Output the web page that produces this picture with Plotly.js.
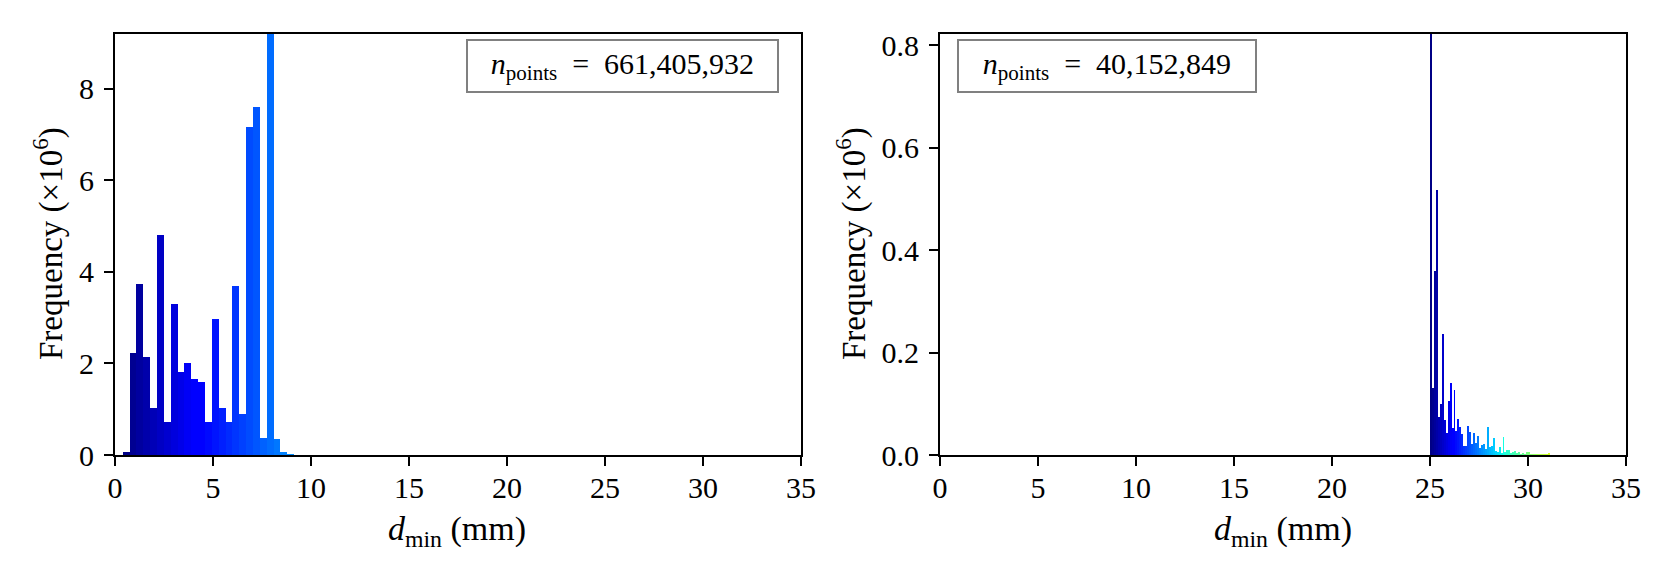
<!DOCTYPE html>
<html>
<head>
<meta charset="utf-8">
<script src="https://cdn.plot.ly/plotly-3.0.1.min.js"></script>
<style>
  html, body { margin: 0; padding: 0; background: #ffffff; }
  #chart { width: 1661px; height: 581px; }
</style>
</head>
<body>
<div id="chart"></div>
<script>
// ---------------- data ----------------
// Left panel: bin centres (mm) and frequencies (x10^6)
const leftBinCenters = [0.565, 0.915, 1.265, 1.615, 1.965, 2.315, 2.665, 3.015, 3.365, 3.715,
  4.065, 4.415, 4.765, 5.115, 5.465, 5.815, 6.165, 6.515, 6.865, 7.215,
  7.565, 7.915, 8.265, 8.615, 8.965];
const leftCounts = [0.07, 2.23, 3.73, 2.14, 1.03, 4.81, 0.72, 3.29, 1.81, 2.00,
  1.66, 1.60, 0.73, 2.97, 1.03, 0.71, 3.70, 0.89, 7.17, 7.60,
  0.38, 9.80, 0.35, 0.06, 0.03];
const leftBinWidth = 0.35;
const leftTotal = "661,405,932";

// Right panel: bin centres (mm) and frequencies (x10^6)
const rightBinCenters = [25.05, 25.15, 25.25, 25.35, 25.45, 25.55, 25.65, 25.75, 25.85, 25.95,
  26.05, 26.15, 26.25, 26.35, 26.45, 26.55, 26.65, 26.75, 26.85, 26.95,
  27.05, 27.15, 27.25, 27.35, 27.45, 27.55, 27.65, 27.75, 27.85, 27.95,
  28.05, 28.15, 28.25, 28.35, 28.45, 28.55, 28.65, 28.75, 28.85, 28.95,
  29.05, 29.15, 29.25, 29.35, 29.45, 29.55, 29.65, 29.75, 29.85, 29.95,
  30.05, 30.15, 30.25, 30.35, 30.45, 30.55, 30.65, 30.75, 30.85, 30.95,
  31.05];
const rightCounts = [0.950, 0.130, 0.360, 0.517, 0.075, 0.099, 0.236, 0.068, 0.042, 0.106,
  0.140, 0.052, 0.127, 0.046, 0.070, 0.055, 0.041, 0.018, 0.018, 0.057,
  0.045, 0.021, 0.042, 0.024, 0.038, 0.014, 0.019, 0.021, 0.011, 0.054,
  0.015, 0.018, 0.033, 0.008, 0.005, 0.015, 0.004, 0.036, 0.006, 0.009,
  0.009, 0.003, 0.005, 0.007, 0.003, 0.005, 0.002, 0.004, 0.002, 0.005,
  0.006, 0.002, 0.001, 0.002, 0.001, 0.001, 0.001, 0.001, 0.001, 0.001,
  0.004];
const rightBinWidth = 0.1;
const rightTotal = "40,152,849";

const xTickVals = [0, 5, 10, 15, 20, 25, 30, 35];
const leftYTicks = [0, 2, 4, 6, 8];
const rightYTicks = [0.0, 0.2, 0.4, 0.6, 0.8];

// ---------------- colour map (matplotlib "jet") ----------------
function interp(seg, t) {
  for (let i = 1; i < seg.length; i++) {
    if (t <= seg[i][0]) {
      const [x0, y0] = seg[i - 1], [x1, y1] = seg[i];
      return y0 + (y1 - y0) * (t - x0) / (x1 - x0);
    }
  }
  return seg[seg.length - 1][1];
}
function jet(t) {
  t = Math.max(0, Math.min(1, t));
  const r = interp([[0, 0], [0.35, 0], [0.66, 1], [0.89, 1], [1, 0.5]], t);
  const g = interp([[0, 0], [0.125, 0], [0.375, 1], [0.64, 1], [0.91, 0], [1, 0]], t);
  const b = interp([[0, 0.5], [0.11, 1], [0.34, 1], [0.65, 0], [1, 0]], t);
  return `rgb(${Math.round(r * 255)},${Math.round(g * 255)},${Math.round(b * 255)})`;
}
function colours(centers, lo, hi) {
  return centers.map(c => jet((c - lo) / (hi - lo)));
}

const FONT = "Liberation Serif, 'DejaVu Serif', serif";
const TICK_SIZE = 30, YTITLE_SIZE = 33, XTITLE_SIZE = 34, BOX_SIZE = 30;

const traces = [
  {
    type: "bar", x: leftBinCenters, y: leftCounts, width: leftBinWidth,
    marker: { color: colours(leftBinCenters, 0.39, 33.0), line: { width: 0 } },
    xaxis: "x", yaxis: "y", hoverinfo: "x+y", showlegend: false
  },
  {
    type: "bar", x: rightBinCenters, y: rightCounts, width: rightBinWidth,
    marker: { color: colours(rightBinCenters, 25.0, 35.0), line: { width: 0 } },
    xaxis: "x2", yaxis: "y2", hoverinfo: "x+y", showlegend: false
  }
];

const axisCommon = {
  showgrid: false, zeroline: false,
  showline: true, linecolor: "#000", linewidth: 2, mirror: true,
  ticks: "outside", ticklen: 9, tickwidth: 2, tickcolor: "#000",
  tickfont: { family: FONT, size: TICK_SIZE, color: "#000" }
};
const xAxisCommon = Object.assign({}, axisCommon, { range: [0, 35], tickvals: xTickVals, ticklabelstandoff: -4 });
const yAxisCommon = Object.assign({}, axisCommon, { ticklabelstandoff: 4 });

// pixel helpers for text placement (plot area: x 115..1626, y 34..455)
const PL = 115, PW = 1511, PT = 34, PH = 421;
const px = v => (v - PL) / PW;
const py = v => (PT + PH - v) / PH;

const yTitleFont = { family: FONT, size: YTITLE_SIZE, color: "#000" };
const xTitleFont = { family: FONT, size: XTITLE_SIZE, color: "#000" };
const boxFont = { family: FONT, size: BOX_SIZE, color: "#000" };
const yTitleText = "Frequency (×10<sup>6</sup>)";
const xTitleText = "<i>d</i><sub>min</sub> (mm)";

const layout = {
  width: 1661, height: 581,
  margin: { l: 115, r: 35, t: 34, b: 126 },
  paper_bgcolor: "#fff", plot_bgcolor: "#fff",
  bargap: 0,
  showlegend: false,
  xaxis: Object.assign({}, xAxisCommon, { domain: [0, 686 / 1511], anchor: "y" }),
  yaxis: Object.assign({}, yAxisCommon, { range: [0, 9.19], tickvals: leftYTicks, anchor: "x" }),
  xaxis2: Object.assign({}, xAxisCommon, { domain: [825 / 1511, 1], anchor: "y2" }),
  yaxis2: Object.assign({}, yAxisCommon, { range: [0, 0.8215], tickvals: rightYTicks, tickformat: ".1f", anchor: "x2" }),
  annotations: [
    // axis titles
    { xref: "paper", yref: "paper", x: px(48), y: py(244), textangle: -90, showarrow: false,
      xanchor: "center", yanchor: "middle", text: yTitleText, font: yTitleFont },
    { xref: "paper", yref: "paper", x: px(851), y: py(244), textangle: -90, showarrow: false,
      xanchor: "center", yanchor: "middle", text: yTitleText, font: yTitleFont },
    { xref: "paper", yref: "paper", x: px(457), y: py(531), showarrow: false,
      xanchor: "center", yanchor: "middle", text: xTitleText, font: xTitleFont },
    { xref: "paper", yref: "paper", x: px(1283), y: py(531), showarrow: false,
      xanchor: "center", yanchor: "middle", text: xTitleText, font: xTitleFont },
    // n_points boxes
    {
      xref: "x domain", yref: "y domain", x: (779 - 115) / 686, y: 0.988,
      xanchor: "right", yanchor: "top", showarrow: false,
      text: "<i>n</i><sub>points</sub>&nbsp;&nbsp;=&nbsp;&nbsp;" + leftTotal,
      font: boxFont, width: 297, height: 38, align: "center",
      bgcolor: "#fff", bordercolor: "#808080", borderwidth: 2, borderpad: 6
    },
    {
      xref: "x2 domain", yref: "y2 domain", x: 0.0248, y: 0.988,
      xanchor: "left", yanchor: "top", showarrow: false,
      text: "<i>n</i><sub>points</sub>&nbsp;&nbsp;=&nbsp;&nbsp;" + rightTotal,
      font: boxFont, width: 284, height: 38, align: "center",
      bgcolor: "#fff", bordercolor: "#808080", borderwidth: 2, borderpad: 6
    }
  ]
};

Plotly.newPlot("chart", traces, layout, { displayModeBar: false, staticPlot: true });
</script>
</body>
</html>
